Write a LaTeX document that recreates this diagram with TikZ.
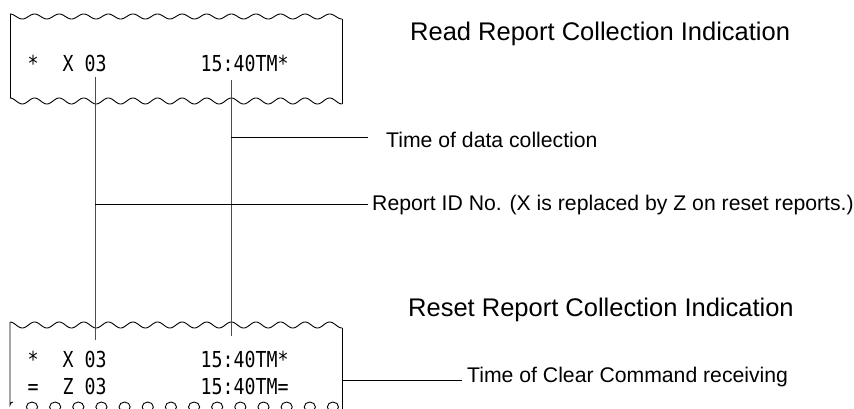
\documentclass[tikz,border=0pt]{standalone}
\usepackage{fontspec}
\setmainfont{Liberation Sans}
\newfontfamily\receipt[FakeStretch=0.83]{DejaVu Sans Mono}
\begin{document}
\begin{tikzpicture}[x=1pt,y=-1pt,
  rec/.style={font=\receipt\fontsize{22}{26}\selectfont, inner sep=0pt, anchor=base west},
  lab/.style={font=\fontsize{21.2}{25}\selectfont, inner sep=0pt, anchor=base west},
  ttl/.style={font=\fontsize{25.5}{30}\selectfont, inner sep=0pt, anchor=base west},
  lead/.style={line width=1pt, draw=black!70},
  hlead/.style={line width=1pt, draw=black},
  paper/.style={line width=0.9pt, draw=black}]
\useasboundingbox (0,0) rectangle (854,409);
\clip (0,0) rectangle (854,409);

% ---------- top paper ----------
\draw[paper] plot[domain=10:342, samples=300, smooth] (\x,{16.5-2.5*cos(14.6383*(\x-10))});
\draw[paper] plot[domain=10:342, samples=300, smooth] (\x,{101-3*cos(14.6383*(\x-10))});
\draw[paper] (10,14) -- (10,98);
\draw[paper] (342,19) -- (342,104);

% ---------- bottom paper ----------
\draw[paper] plot[domain=10:342, samples=300, smooth] (\x,{325-3*cos(14.6383*(\x-10))});
\draw[paper] (10,322) -- (10,405) arc[start angle=180, end angle=270, radius=3];
\draw[paper] (342,328) -- (342,409);
\foreach \k in {0,...,13}{
  \draw[paper] ({32+23.15*\k},407) ellipse (5.6 and 5);
}

% ---------- receipt texts ----------
\node[rec, anchor=base] (s1) at (33,72) {*};
\node[rec] (x1) at (62.5,72) {X 03};
\node[rec] (t1) at (200.5,72) {15:40TM*};

\node[rec, anchor=base] (s2) at (33,367) {*};
\node[rec] (x2) at (62.5,367) {X 03};
\node[rec] (t2) at (200.5,367) {15:40TM*};

\node[rec, anchor=base] (s3) at (33,394) {=};
\node[rec] (x3) at (62.5,394) {Z 03};
\node[rec] (t3) at (200.5,394) {15:40TM=};

% ---------- titles and labels ----------
\node[ttl] (read) at (410,41) {Read Report Collection Indication};
\node[ttl] (reset) at (408,316) {Reset Report Collection Indication};
\node[lab] (ltime) at (386,147.5) {Time of data collection};
\node[lab] (lid) at (372,210.5) {Report ID No. (X is replaced by Z on reset reports.)};
\node[lab] (lclear) at (467,382.5) {Time of Clear Command receiving};

% ---------- connector coordinates ----------
\coordinate (idtop) at (95,77);
\coordinate (idbot) at (95,340);
\coordinate (tmtop) at (231,80);
\coordinate (tmbot) at (231,336);
\coordinate (tmjoin) at (231,138);
\coordinate (tmend) at (368,138);
\coordinate (idjoin) at (95,204);
\coordinate (idend) at (368,204);
\coordinate (clstart) at (342,380);
\coordinate (clend) at (462,380);

\draw[lead] (idtop) -- (idbot);
\draw[lead] (tmtop) -- (tmbot);
\draw[hlead] (tmjoin) -- (tmend);
\draw[hlead] (idjoin) -- (idend);
\draw[hlead] (clstart) -- (clend);
\end{tikzpicture}
\end{document}
